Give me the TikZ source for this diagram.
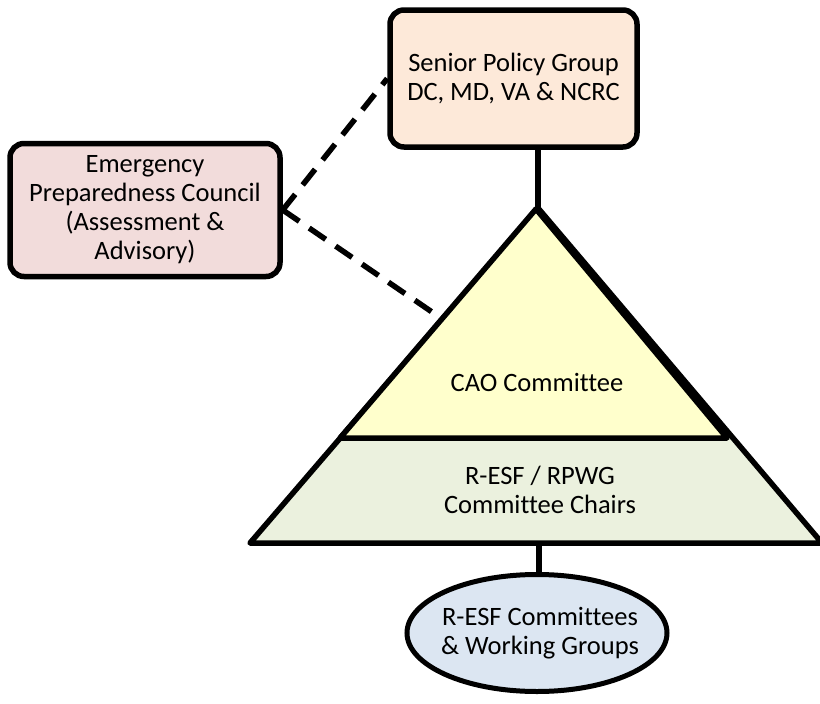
\documentclass[tikz,border=0pt]{standalone}
\usepackage{fontspec}
\setmainfont{Carlito}[RawFeature=-liga]
\usetikzlibrary{shapes.geometric}

\definecolor{spgfill}{HTML}{FDE9D9}
\definecolor{epcfill}{HTML}{F2DCDB}
\definecolor{caofill}{HTML}{FFFFCC}
\definecolor{chairfill}{HTML}{EBF1DE}
\definecolor{wgfill}{HTML}{DCE6F2}

\tikzset{
  txt/.style={align=center, font=\fontsize{26.5}{29}\selectfont, inner sep=0pt},
  groupbox/.style={txt, draw, line width=5.5pt, rounded corners=14pt},
  tierline/.style={draw, line width=5.5pt, line join=round},
  link/.style={line width=5.5pt},
  dashlink/.style={line width=5.5pt, dash pattern=on 20pt off 12pt},
}

\begin{document}
\begin{tikzpicture}[x=1pt, y=-1pt]
  \useasboundingbox (0,0) rectangle (820,704);

  % boxes
  \node[groupbox, fill=spgfill, minimum width=247pt, minimum height=137pt]
    (spg) at (513.5,78.5) {Senior Policy Group\\DC, MD, VA \& NCRC};
  \node[groupbox, fill=epcfill, minimum width=270pt, minimum height=133pt]
    (epc) at (145,210) {Emergency\\Preparedness Council\\(Assessment \&\\Advisory)};

  % pyramid corners
  \coordinate (apex) at (538,208);
  \coordinate (bl) at (250,543);
  \coordinate (br) at (822,543);
  \coordinate (capex) at (536,209);
  \coordinate (ml) at (340,438);
  \coordinate (mr) at (727,438);
  \coordinate (basemid) at (539,543);
  \coordinate (epcend) at (432,312);

  % connectors
  \draw[link] (apex) -- (apex |- spg.south);
  \draw[dashlink] (epc.east) -- (spg.west);
  \draw[dashlink] (epc.east) -- (epcend);

  % pyramid tiers
  \draw[tierline, fill=chairfill] (apex) -- (bl) -- (br) -- cycle;
  \draw[tierline, fill=caofill] (capex) -- (ml) -- (mr) -- cycle;
  \node[txt] (cao) at (537,382) {CAO Committee};
  \node[txt] (chairs) at (540,490) {R-ESF / RPWG\\Committee Chairs};

  % working groups
  \node[draw, ellipse, line width=5pt, fill=wgfill, minimum width=260pt,
        minimum height=117pt, inner sep=0pt] (wg) at (537,633) {};
  \node[txt] (wgtext) at (540,633) {R-ESF Committees\\\& Working Groups};
  \draw[link] (basemid) -- (basemid |- wg.north);
\end{tikzpicture}
\end{document}
